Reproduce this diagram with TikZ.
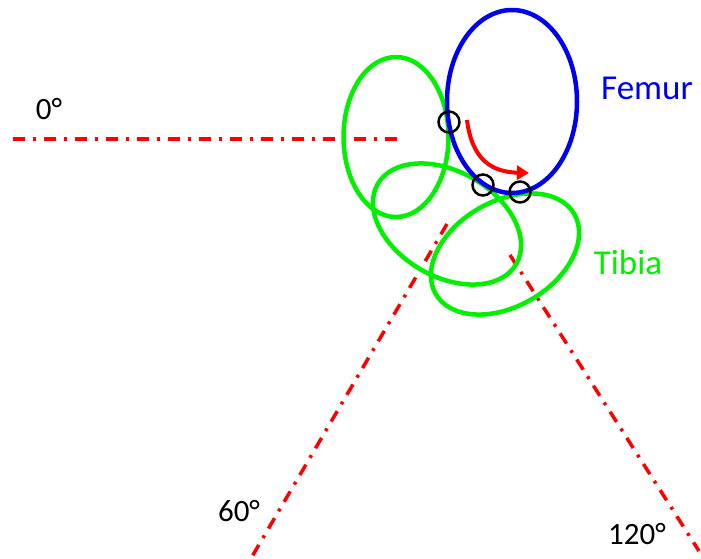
\documentclass[tikz,border=0pt]{standalone}
\usepackage{fontspec}
\setmainfont{Carlito}
\usetikzlibrary{arrows.meta}
\begin{document}
\begin{tikzpicture}[x=1pt,y=-1pt,
    tibia/.style={draw={rgb,255:red,0;green,240;blue,0},line width=4.5pt},
    axisline/.style={draw=red,line width=3.5pt,dash pattern=on 12pt off 8pt on 3pt off 8pt},
    contact/.style={draw=black,line width=2.5pt},
    angle/.style={inner sep=0pt,font=\fontsize{31}{36}\selectfont}]
        \useasboundingbox (0,0) rectangle (701,559);
        % centres
        \coordinate (c0) at (396,137);\coordinate (c60) at (447,224);\coordinate (c120) at (505,254);
        % axis lines
        \draw [axisline] (13,139) -- (397,139);
        \draw [axisline] (c60) -- (250,560);
        \draw [axisline] (510,255) -- (699,551);
        % tibia
        \draw [tibia] (c0) circle [x radius=52.5, y radius=80];
        \draw [tibia] (c60) circle [x radius=52.5, y radius=80, rotate=60];
        \draw [tibia] (c120) circle [x radius=52.5, y radius=80, rotate=120];
        % femur
        \draw [draw={rgb,255:red,0;green,0;blue,240},line width=4.5pt] (512,101.5) circle [x radius=65, y radius=91.5];
        % contact points
        \draw [contact] (449,122) circle (10.5);\draw [contact] (483,185) circle (10.5);\draw [contact] (520,192) circle (10.5);
        % rolling arrow
        \draw [red,line width=4pt,-{Triangle[length=12pt,width=14pt]}] (467,120) .. controls (472,160) and (492,172) .. (529,173);
        % lecter
        \node [inner sep=0pt,text={rgb,255:red,0;green,0;blue,240},font=\fontsize{35}{40}\selectfont] (femur) at (647,88) {Femur};
        \node [inner sep=0pt,text={rgb,255:red,0;green,240;blue,0},font=\fontsize{35}{40}\selectfont] (tibiatxt) at (628,262) {Tibia};
        \node [angle] (a0) at (49,109) {0°};
        \node [angle] (a60) at (239,511) {60°};
        \node [angle] (a120) at (637,534) {120°};
    \end{tikzpicture}
\end{document}
